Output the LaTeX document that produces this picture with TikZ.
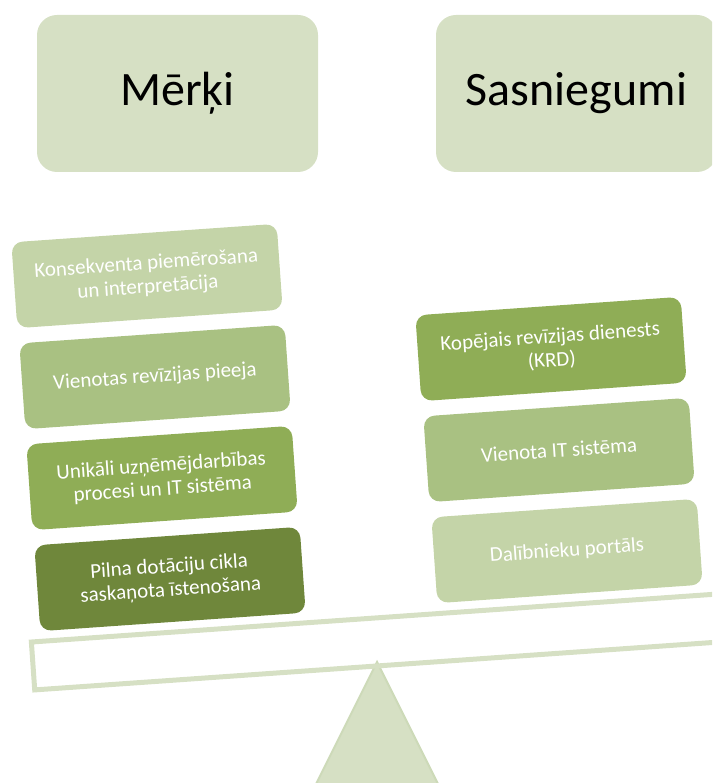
\documentclass[tikz,border=0pt]{standalone}
\usepackage{fontspec}
\setmainfont{Carlito}
\definecolor{titlefill}{RGB}{214,224,196}
\definecolor{beamcol}{RGB}{214,224,196}
\definecolor{triedge}{RGB}{205,218,184}
\definecolor{cA}{RGB}{196,212,168}
\definecolor{cB}{RGB}{169,193,130}
\definecolor{cC}{RGB}{143,173,86}
\definecolor{cD}{RGB}{111,135,59}
\begin{document}
\begin{tikzpicture}[x=1pt,y=1pt,
  titlebox/.style={fill=titlefill, rounded corners=20pt, minimum width=281pt,
    minimum height=157pt, inner sep=0pt, text=black,
    font=\fontsize{48}{56}\selectfont},
  itembox/.style={rounded corners=11pt, minimum width=266pt, minimum height=86pt,
    inner sep=0pt, rotate=4, text=white, align=center,
    font=\fontsize{21}{23.5}\selectfont},
  beamstyle/.style={draw=beamcol, line width=5pt, rotate=4, minimum width=690pt,
    minimum height=48pt, inner sep=0pt},
]
\useasboundingbox (0,0) rectangle (712,783);
\clip (0,0) rectangle (712,783);

% titles
\node[titlebox] (merki) at (177.5,689.5) {Mērķi};
\node[titlebox] (sasn) at (576.5,689.5) {Sasniegumi};

% left stack
\node[itembox, fill=cA] (l1) at (147,507) {Konsekventa piemērošana\\un interpretācija};
\node[itembox, fill=cB] (l2) at (155,406) {Vienotas revīzijas pieeja};
\node[itembox, fill=cC] (l3) at (162,305) {Unikāli uzņēmējdarbības\\procesi un IT sistēma};
\node[itembox, fill=cD] (l4) at (170,204) {Pilna dotāciju cikla\\saskaņota īstenošana};

% right stack
\node[itembox, fill=cC] (r1) at (551,434) {Kopējais revīzijas dienests\\(KRD)};
\node[itembox, fill=cB] (r2) at (559,333) {Vienota IT sistēma};
\node[itembox, fill=cA] (r3) at (567,232) {Dalībnieku portāls};

% fulcrum
\coordinate (apex) at (377,121);
\coordinate (bl) at (306.5,-20);
\coordinate (br) at (447.5,-20);
\filldraw[fill=beamcol, draw=triedge, line width=2pt, line join=miter] (apex) -- (br) -- (bl) -- cycle;

% beam
\node[beamstyle] (beam) at (377.2,141.1) {};
\end{tikzpicture}
\end{document}
